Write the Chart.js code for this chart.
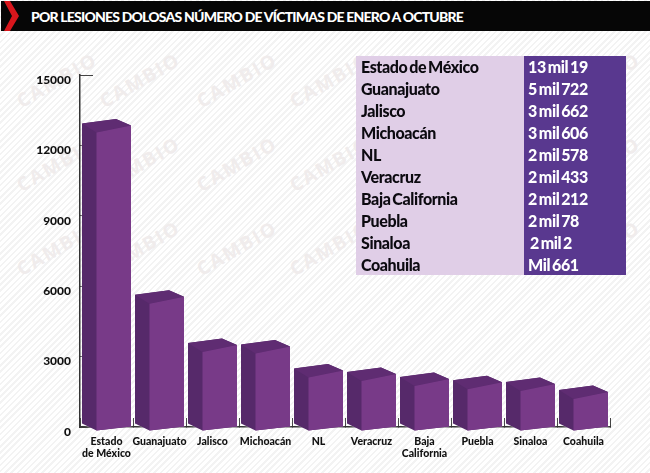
<!DOCTYPE html>
<html>
<head>
<meta charset="utf-8">
<script src="https://cdn.jsdelivr.net/npm/chart.js@4"></script>
<style>
    html, body { margin: 0; padding: 0; }
    #page {
        position: relative; width: 650px; height: 473px; overflow: hidden;
        background: repeating-linear-gradient(135deg, #ffffff 0, #ffffff 2.6px, #f3f3f3 2.6px, #f3f3f3 4.4px);
    }
    #header { position: absolute; left: 1px; top: 1px; width: 649px; height: 30px; background: #060606; }
    #chevron { position: absolute; left: 3px; top: 0; }
    #title {
        position: absolute; left: 30px; top: 0; color: #fff;
        font: 900 14px/31px Lato, sans-serif; letter-spacing: -0.8px; white-space: nowrap;
    }
    .mark {
        position: absolute; color: #f0ecec; font: 700 19px "Open Sans", sans-serif; letter-spacing: 2px;
        transform: translate(-50%, -50%) rotate(-30deg);
    }
    #chartWrap { position: absolute; left: 0; top: 0; width: 650px; height: 473px; }
    #stateTable {
        position: absolute; left: 356px; top: 56px; width: 270px; height: 219px;
        border-collapse: collapse; table-layout: fixed;
        font: 900 16px Lato, sans-serif; letter-spacing: -0.4px; word-spacing: -1.5px;
    }
    #stateTable td { padding: 0 0 0 5px; height: 21.9px; white-space: pre; }
    #stateTable td.name { width: 163px; background: rgba(223, 204, 230, 0.97); color: #0c0a10; }
    #stateTable td.val { background: #59388f; color: #fff; padding-left: 4px; }
</style>
</head>
<body>
<div id="page">
    <div id="marks"></div>
    <div id="header">
        <svg id="chevron" width="17" height="30"><polygon points="0,0 6,0 15,15 6,30 0,30 8,15" fill="#d8161c"/></svg>
        <div id="title">POR LESIONES DOLOSAS NÚMERO DE VÍCTIMAS DE ENERO A OCTUBRE</div>
    </div>
    <div id="chartWrap"><canvas id="lesionesChart" width="650" height="473"></canvas></div>
    <table id="stateTable"></table>
</div>
<script>
const categories = [['Estado', 'de México'], 'Guanajuato', 'Jalisco', 'Michoacán', 'NL', 'Veracruz', ['Baja', 'California'], 'Puebla', 'Sinaloa', 'Coahuila'];
const victimas = [13019, 5722, 3662, 3606, 2578, 2433, 2212, 2078, 2002, 1661];
const tableNames = ['Estado de México', 'Guanajuato', 'Jalisco', 'Michoacán', 'NL', 'Veracruz', 'Baja California', 'Puebla', 'Sinaloa', 'Coahuila'];
const tableValues = ['13 mil 19', '5 mil 722', '3 mil 662', '3 mil 606', '2 mil 578', '2 mil 433', '2 mil 212', '2 mil 78', ' 2 mil 2', 'Mil 661'];
const yTicks = [0, 3000, 6000, 9000, 12000, 15000];

// watermark grid, three rows
const markCols = [57, 140, 237, 330, 415, 505, 600];
const markRows = [80, 164, 248];
markRows.forEach(top => markCols.forEach(left => {
    const el = document.createElement('div');
    el.className = 'mark';
    el.textContent = 'CAMBIO';
    el.style.left = left + 'px';
    el.style.top = top + 'px';
    document.getElementById('marks').appendChild(el);
}));

// Table on the right
const table = document.getElementById('stateTable');
tableNames.forEach((name, i) => {
    const row = table.insertRow();
    const a = row.insertCell(); a.className = 'name'; a.textContent = name;
    const b = row.insertCell(); b.className = 'val'; b.textContent = tableValues[i];
});

// Draws each bar as a little box, the native bar itself stays transparent
const boxBars = {
    id: 'boxBars',
    afterDatasetsDraw(chart) {
        const ctx = chart.ctx;
        chart.getDatasetMeta(0).data.forEach(bar => {
            const left = bar.x - 24.5, mid = left + 14.5, right = left + 49;
            const top = bar.y + 2, floor = bar.base;

            function face(points, color) {
                ctx.beginPath();
                points.forEach((p, i) => i ? ctx.lineTo(p[0], p[1]) : ctx.moveTo(p[0], p[1]));
                ctx.closePath();
                ctx.fillStyle = color;
                ctx.fill();
            }
            ctx.save();
            ctx.shadowColor = 'rgba(255,255,255,0.9)';
            ctx.shadowBlur = 2;
            face([[left, top], [left + 34, top - 4.5], [right, top + 2], [right, floor], [mid, floor + 4], [left, floor - 3]], '#56296a');
            ctx.restore();
            face([[left, top], [left + 34, top - 4.5], [right, top + 2], [mid, top + 9]], '#5f2c72');
            face([[mid, top + 9], [right, top + 2], [right, floor], [mid, floor + 4]], '#783a88');
        });
    }
};

new Chart(document.getElementById('lesionesChart').getContext('2d'), {
    type: 'bar',
    data: {
        labels: categories,
        datasets: [{ data: victimas, backgroundColor: 'transparent', barPercentage: 1, categoryPercentage: 1 }]
    },
    plugins: [boxBars],
    options: {
        responsive: false,
        animation: false,
        layout: { padding: { top: 75, right: 40, left: 0, bottom: 0 } },
        plugins: { legend: { display: false }, tooltip: { enabled: false } },
        scales: {
            y: {
                min: 0, max: 15000,
                afterBuildTicks(axis) { axis.ticks = yTicks.map(v => ({ value: v })); },
                afterFit(axis) { axis.width = 80; },
                border: { color: '#333', width: 1.5 },
                grid: { drawOnChartArea: false, tickLength: -13, color: '#444', tickWidth: 1 },
                ticks: {
                    padding: 22, labelOffset: 5, color: '#111',
                    callback: value => String(value),
                    font: { family: 'Lato', weight: '900', size: 12 }
                }
            },
            x: {
                afterFit(axis) { axis.height = 46; },
                border: { color: '#333', width: 1.5 },
                grid: { drawOnChartArea: false, tickLength: -9, color: '#444', tickWidth: 1 },
                ticks: {
                    padding: 17, color: '#111', maxRotation: 0, autoSkip: false,
                    font: { family: 'Lato', weight: '900', size: 10.5 }
                }
            }
        }
    }
});
</script>
</body>
</html>
